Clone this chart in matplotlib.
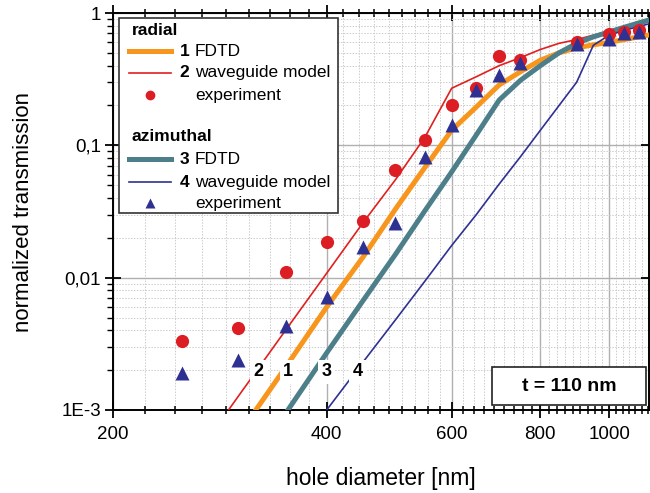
import numpy as np
import matplotlib
matplotlib.use("Agg")
import matplotlib.pyplot as plt
from matplotlib.patches import Rectangle
from matplotlib.lines import Line2D
from matplotlib.ticker import FixedLocator, FixedFormatter, NullFormatter, LogLocator

plt.rcParams['font.family'] = ['Liberation Sans', 'DejaVu Sans']

### simulation curves (hole diameter in nm)
sim_d = [250, 300, 350, 400, 450, 500, 550, 600, 650, 700, 750, 800, 850, 900, 950, 1000, 1050, 1100, 1150]
fdtd_radial = [0.0002, 0.00064, 0.0021, 0.006, 0.0143, 0.033, 0.068, 0.13, 0.195, 0.286, 0.36, 0.44, 0.50, 0.545, 0.575,
               0.60, 0.63, 0.66, 0.69]
wg_radial = [0.00032, 0.00126, 0.0040, 0.0108, 0.026, 0.055, 0.115, 0.27, 0.33, 0.40, 0.46, 0.53, 0.59, 0.63, 0.68,
             0.73, 0.78, 0.82, 0.87]
fdtd_azim = [0.00008, 0.0003, 0.00094, 0.0027, 0.0067, 0.015, 0.032, 0.063, 0.12, 0.22, 0.31, 0.40, 0.50, 0.59, 0.66,
             0.72, 0.78, 0.84, 0.90]
wg_azim = [0.00004, 0.0001, 0.0004, 0.001, 0.0023, 0.0048, 0.0094, 0.0175, 0.030, 0.051, 0.082, 0.13, 0.20, 0.30, 0.57,
           0.68, 0.74, 0.79, 0.84]

### measured points
exp_d = [250, 300, 350, 400, 450, 500, 550, 600, 650, 700, 750, 900, 1000, 1050, 1100]
exp_radial = [0.0033, 0.0042, 0.011, 0.0185, 0.027, 0.065, 0.11, 0.20, 0.27, 0.47, 0.44, 0.60, 0.69, 0.72, 0.74]
exp_azim = [0.0019, 0.0024, 0.0043, 0.0071, 0.017, 0.026, 0.081, 0.143, 0.26, 0.34, 0.42, 0.58, 0.64, 0.71, 0.72]

x_major = [200, 400, 600, 800, 1000]
x_labels = ["200", "400", "600", "800", "1000"]
y_major = [0.001, 0.01, 0.1, 1]
y_labels = ["1E-3", "0,01", "0,1", "1"]

orange = "#f7951d"
red = "#e0201f"
teal = "#4d7f8b"
navy = "#2e3192"

fig = plt.figure(figsize=(6.5, 4.93), dpi=100)
ax = fig.add_axes([113/650, 1-410/493, 536/650, 397/493])
ax.set_xscale("log")
ax.set_yscale("log")
ax.set_xlim(200, 1138)
ax.set_ylim(0.001, 1)

ax.plot(sim_d, fdtd_radial, color=orange, lw=3.6, zorder=3)
ax.plot(sim_d, wg_radial, color=red, lw=1.2, zorder=3)
ax.plot(sim_d, fdtd_azim, color=teal, lw=3.6, zorder=3)
ax.plot(sim_d, wg_azim, color=navy, lw=1.2, zorder=3)
ax.plot(exp_d, exp_radial, 'o', color="#dc1e24", ms=9.5, mec='none', zorder=4)
ax.plot(exp_d, exp_azim, '^', color=navy, ms=10.5, mec='none', zorder=5)

# ticks
minor_x = [200 + k*200/9 for k in range(1, 45) if k % 9 != 0]
ax.xaxis.set_major_locator(FixedLocator(x_major))
ax.xaxis.set_major_formatter(FixedFormatter(x_labels))
ax.xaxis.set_minor_locator(FixedLocator(minor_x))
ax.xaxis.set_minor_formatter(NullFormatter())
ax.yaxis.set_major_locator(FixedLocator(y_major))
ax.yaxis.set_major_formatter(FixedFormatter(y_labels))
ax.yaxis.set_minor_locator(LogLocator(base=10, subs=np.arange(2, 10)))
ax.yaxis.set_minor_formatter(NullFormatter())

ax.tick_params(axis='both', which='major', labelsize=13.5, width=1.3, color='black')
ax.tick_params(axis='x', which='major', direction='inout', length=11, pad=6)
ax.tick_params(axis='x', which='minor', direction='inout', length=6, width=1.1)
ax.tick_params(axis='y', which='major', direction='inout', length=11, pad=3)
ax.tick_params(axis='y', which='minor', direction='out', length=4, width=1.0)
ax.tick_params(top=True, right=True, which='both')

for sp in ax.spines.values():
    sp.set_linewidth(1.4)

ax.grid(True, which='major', color='#b0b0b0', lw=1.0, ls='-', zorder=0)
ax.grid(True, which='minor', color='#cccccc', lw=0.7, ls=(0, (1.5, 1.5)), zorder=0)
ax.set_axisbelow(True)

ax.set_xlabel("hole diameter [nm]", fontsize=16.5, labelpad=17)
ax.set_ylabel("normalized transmission", fontsize=16, labelpad=20)

# curve numbers
for txt, xd in [("2", 321), ("1", 353), ("3", 400), ("4", 442)]:
    ax.text(xd, 0.00195, txt, fontsize=13, fontweight='bold', ha='center', va='center', zorder=6,
            bbox=dict(facecolor='white', edgecolor='none', pad=2.5))

# legend box drawn by hand
ax.add_patch(Rectangle((0.011, 0.496), 0.409, 0.491, transform=ax.transAxes, facecolor='white',
                       edgecolor='#333333', lw=1.2, zorder=7))
rows = [
    (0.957, None, None, "radial", None),
    (0.904, 'line', (orange, 3.6, None), "FDTD", "1"),
    (0.849, 'line', (red, 1.2, None), "waveguide model", "2"),
    (0.793, 'mark', ("#dc1e24", 0, 'o'), "experiment", None),
    (0.688, None, None, "azimuthal", None),
    (0.632, 'line', (teal, 3.6, None), "FDTD", "3"),
    (0.574, 'line', (navy, 1.2, None), "waveguide model", "4"),
    (0.521, 'mark', (navy, 0, '^'), "experiment", None),
]
for y, kind, sty, label, num in rows:
    if kind is None:
        ax.text(0.035, y, label, transform=ax.transAxes, fontsize=12.5, fontweight='bold',
                va='center', ha='left', zorder=8)
        continue
    if kind == 'line':
        ax.add_line(Line2D([0.030, 0.108], [y, y], transform=ax.transAxes, color=sty[0], lw=sty[1], zorder=8))
    else:
        ax.add_line(Line2D([0.069], [y], transform=ax.transAxes, color=sty[0], marker=sty[2], ms=7,
                           mec='none', ls='none', zorder=8))
    if num:
        ax.text(0.124, y, num, transform=ax.transAxes, fontsize=12.5, fontweight='bold',
                va='center', ha='left', zorder=8)
    ax.text(0.153, y, label, transform=ax.transAxes, fontsize=12.5, va='center', ha='left', zorder=8)

# thickness box
ax.add_patch(Rectangle((0.708, 0.0126), 0.286, 0.095, transform=ax.transAxes, facecolor='white',
                       edgecolor='#222222', lw=1.2, zorder=7))
ax.text(0.851, 0.060, "t = 110 nm", transform=ax.transAxes, fontsize=14, fontweight='bold',
        ha='center', va='center', zorder=8)

fig.savefig("out.png", dpi=100)
